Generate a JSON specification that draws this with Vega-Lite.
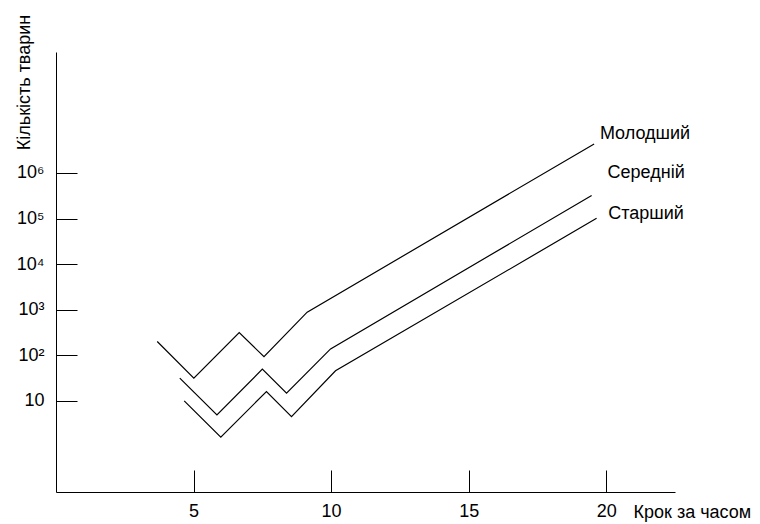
{
  "$schema": "https://vega.github.io/schema/vega-lite/v6.json",
  "width": 619,
  "height": 440,
  "autosize": {"type": "none"},
  "padding": {"left": 56, "top": 52, "right": 85, "bottom": 32},
  "background": "white",
  "config": {
    "view": {"stroke": null},
    "font": "Liberation Sans",
    "axis": {"grid": false, "domainColor": "black", "tickColor": "black", "labelColor": "black", "titleColor": "black", "labelFont": "Liberation Sans", "titleFont": "Liberation Sans", "titleFontWeight": "normal", "labelFontSize": 18, "titleFontSize": 18}
  },
  "datasets": {
    "lines": [
      {"series": "Молодший", "x": 3.68, "y": 200},
      {"series": "Молодший", "x": 5.01, "y": 31.5},
      {"series": "Молодший", "x": 6.66, "y": 314},
      {"series": "Молодший", "x": 7.56, "y": 93},
      {"series": "Молодший", "x": 9.13, "y": 881},
      {"series": "Молодший", "x": 19.56, "y": 4330000},
      {"series": "Середній", "x": 4.5, "y": 31.5},
      {"series": "Середній", "x": 5.85, "y": 4.93},
      {"series": "Середній", "x": 7.5, "y": 49.5},
      {"series": "Середній", "x": 8.38, "y": 14.7},
      {"series": "Середній", "x": 9.98, "y": 138},
      {"series": "Середній", "x": 19.47, "y": 320000},
      {"series": "Старший", "x": 4.66, "y": 10},
      {"series": "Старший", "x": 5.99, "y": 1.6},
      {"series": "Старший", "x": 7.65, "y": 16},
      {"series": "Старший", "x": 8.56, "y": 4.5},
      {"series": "Старший", "x": 10.16, "y": 45.5},
      {"series": "Старший", "x": 19.65, "y": 101000}
    ],
    "labels": [
      {"series": "Молодший", "x": 19.77, "y": 7160000},
      {"series": "Середній", "x": 20.05, "y": 1020000},
      {"series": "Старший", "x": 20.07, "y": 126000}
    ]
  },
  "layer": [
    {
      "data": {"name": "lines"},
      "mark": {"type": "line", "color": "black", "strokeWidth": 1.2},
      "encoding": {
        "x": {
          "field": "x", "type": "quantitative",
          "scale": {"domain": [0, 22.5], "nice": false, "zero": false},
          "axis": {
            "values": [5, 10, 15, 20],
            "tickSize": -22,
            "labelPadding": 32,
            "labelBaseline": "top",
            "title": "Крок за часом",
            "titleAnchor": "start",
            "titleAlign": "left",
            "titleBaseline": "alphabetic",
            "titleX": 577,
            "titleY": 25
          }
        },
        "y": {
          "field": "y", "type": "quantitative",
          "scale": {"type": "log", "domain": [0.1, 450000000], "nice": false},
          "axis": {
            "values": [10, 100, 1000, 10000, 100000, 1000000],
            "tickSize": -21,
            "labelPadding": 33,
            "labelExpr": "datum.value < 50 ? '10' : datum.value < 500 ? '10²' : datum.value < 5000 ? '10³' : datum.value < 50000 ? '10⁴' : datum.value < 500000 ? '10⁵' : '10⁶'",
            "title": "Кількість тварин",
            "titleAngle": -90,
            "titleAlign": "center",
            "titleBaseline": "alphabetic",
            "titleX": -27,
            "titleY": 30
          }
        },
        "detail": {"field": "series"}
      }
    },
    {
      "data": {"name": "labels"},
      "mark": {"type": "text", "align": "left", "baseline": "middle", "fontSize": 18, "font": "Liberation Sans", "color": "black"},
      "encoding": {
        "x": {"field": "x", "type": "quantitative"},
        "y": {"field": "y", "type": "quantitative"},
        "text": {"field": "series"}
      }
    }
  ]
}
